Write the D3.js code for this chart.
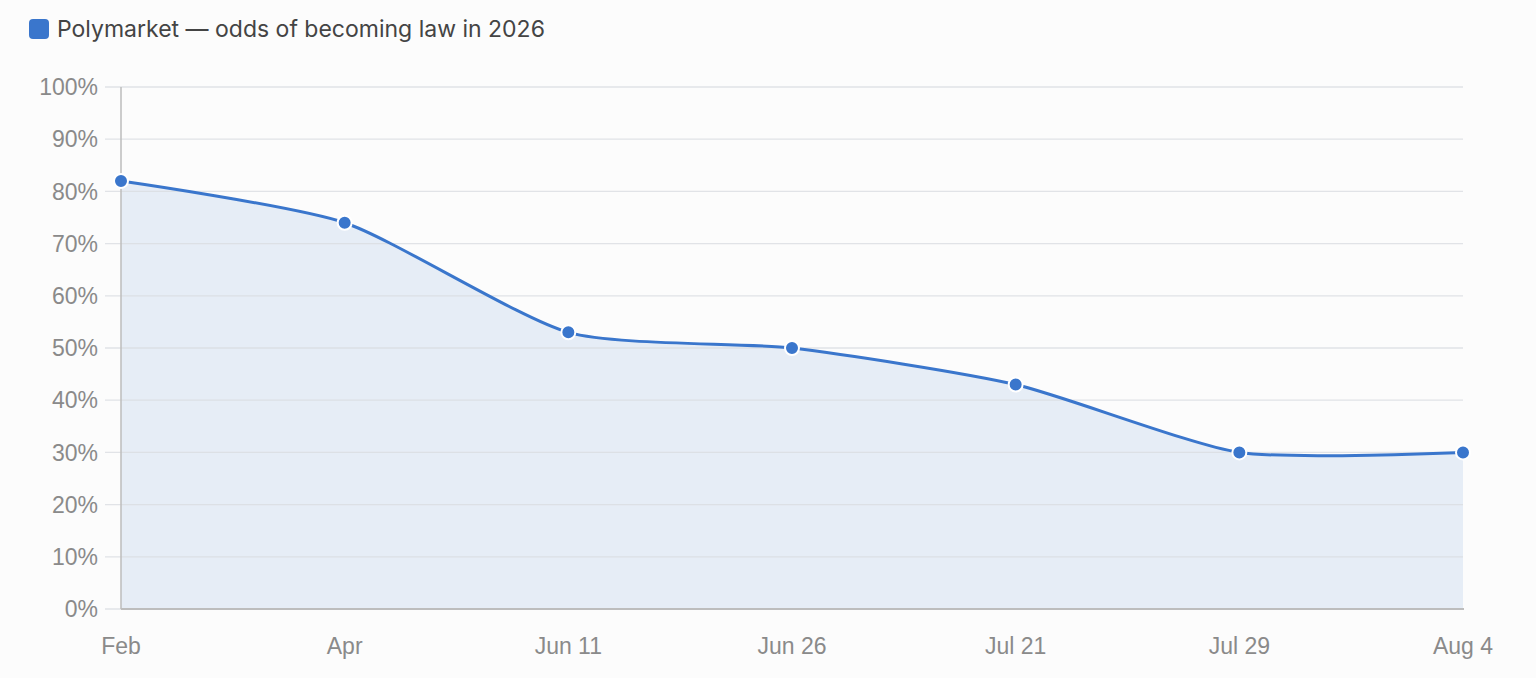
<!DOCTYPE html>
<html>
<head>
<meta charset="utf-8">
<script src="https://cdn.jsdelivr.net/npm/d3@7"></script>
<style>
  html, body { margin: 0; padding: 0; background: #fcfcfc; }
  svg { display: block; }
</style>
</head>
<body>
<div id="chart"></div>
<script>
// data
var dates = ["Feb", "Apr", "Jun 11", "Jun 26", "Jul 21", "Jul 29", "Aug 4"];
var odds = [82, 74, 53, 50, 43, 30, 30];
var yTicks = [0, 10, 20, 30, 40, 50, 60, 70, 80, 90, 100];
var seriesName = "Polymarket \u2014 odds of becoming law in 2026";

var W = 1536, H = 678;
var plotL = 121, plotR = 1463, plotT = 87, plotB = 609;
var blue = "#3a76cc";
var tickFont = "'Liberation Sans', Arial, sans-serif";

var svg = d3.select("#chart").append("svg")
  .attr("width", W).attr("height", H);

svg.append("rect").attr("width", W).attr("height", H).attr("fill", "#fcfcfc");

var x = d3.scalePoint().domain(dates).range([plotL, plotR]);
var y = d3.scaleLinear().domain([0, 100]).range([plotB, plotT]);

var pts = dates.map(function (d, i) { return [x(d), y(odds[i])]; });
var curve = d3.curveCardinal.tension(0.35);

// area
svg.append("path")
  .attr("d", d3.area().x(function (p) { return p[0]; }).y0(plotB).y1(function (p) { return p[1]; }).curve(curve)(pts))
  .attr("fill", "#e6edf6");

// gridlines + y labels
var grid = svg.append("g");
grid.selectAll("line").data(yTicks).enter().append("line")
  .attr("x1", 105).attr("x2", plotR)
  .attr("y1", function (d) { return y(d); })
  .attr("y2", function (d) { return y(d); })
  .attr("stroke", "#d9dce1").attr("stroke-opacity", 0.8).attr("stroke-width", 1.3);

grid.selectAll("text").data(yTicks).enter().append("text")
  .attr("x", 98)
  .attr("y", function (d) { return y(d); })
  .attr("dy", "0.36em")
  .attr("text-anchor", "end")
  .style("font-family", tickFont)
  .style("font-size", "23px")
  .style("fill", "#8a8a8a")
  .text(function (d) { return d + "%"; });

// axis lines
svg.append("line").attr("x1", plotL).attr("x2", plotL).attr("y1", plotT).attr("y2", plotB)
  .attr("stroke", "#bdbdbd").attr("stroke-width", 1.5);
svg.append("line").attr("x1", plotL).attr("x2", plotR + 1).attr("y1", plotB).attr("y2", plotB)
  .attr("stroke", "#bdbdbd").attr("stroke-width", 2);

// line
svg.append("path")
  .attr("d", d3.line().curve(curve)(pts))
  .attr("fill", "none")
  .attr("stroke", blue)
  .attr("stroke-width", 3);

// points
svg.selectAll("circle.pt").data(pts).enter().append("circle")
  .attr("class", "pt")
  .attr("cx", function (p) { return p[0]; })
  .attr("cy", function (p) { return p[1]; })
  .attr("r", 7)
  .attr("fill", blue)
  .attr("stroke", "#fff")
  .attr("stroke-width", 2);

// x labels
svg.selectAll("text.xl").data(dates).enter().append("text")
  .attr("class", "xl")
  .attr("x", function (d) { return x(d); })
  .attr("y", 654)
  .attr("text-anchor", "middle")
  .style("font-family", tickFont)
  .style("font-size", "23px")
  .style("fill", "#8a8a8a")
  .text(function (d) { return d; });

// legend
svg.append("rect").attr("x", 29).attr("y", 19).attr("width", 20).attr("height", 20)
  .attr("rx", 4).attr("fill", blue);
svg.append("text").attr("x", 57).attr("y", 37)
  .style("font-family", "Inter, 'Noto Sans', sans-serif")
  .style("font-size", "23px")
  .style("fill", "#444")
  .text(seriesName);
</script>
</body>
</html>
